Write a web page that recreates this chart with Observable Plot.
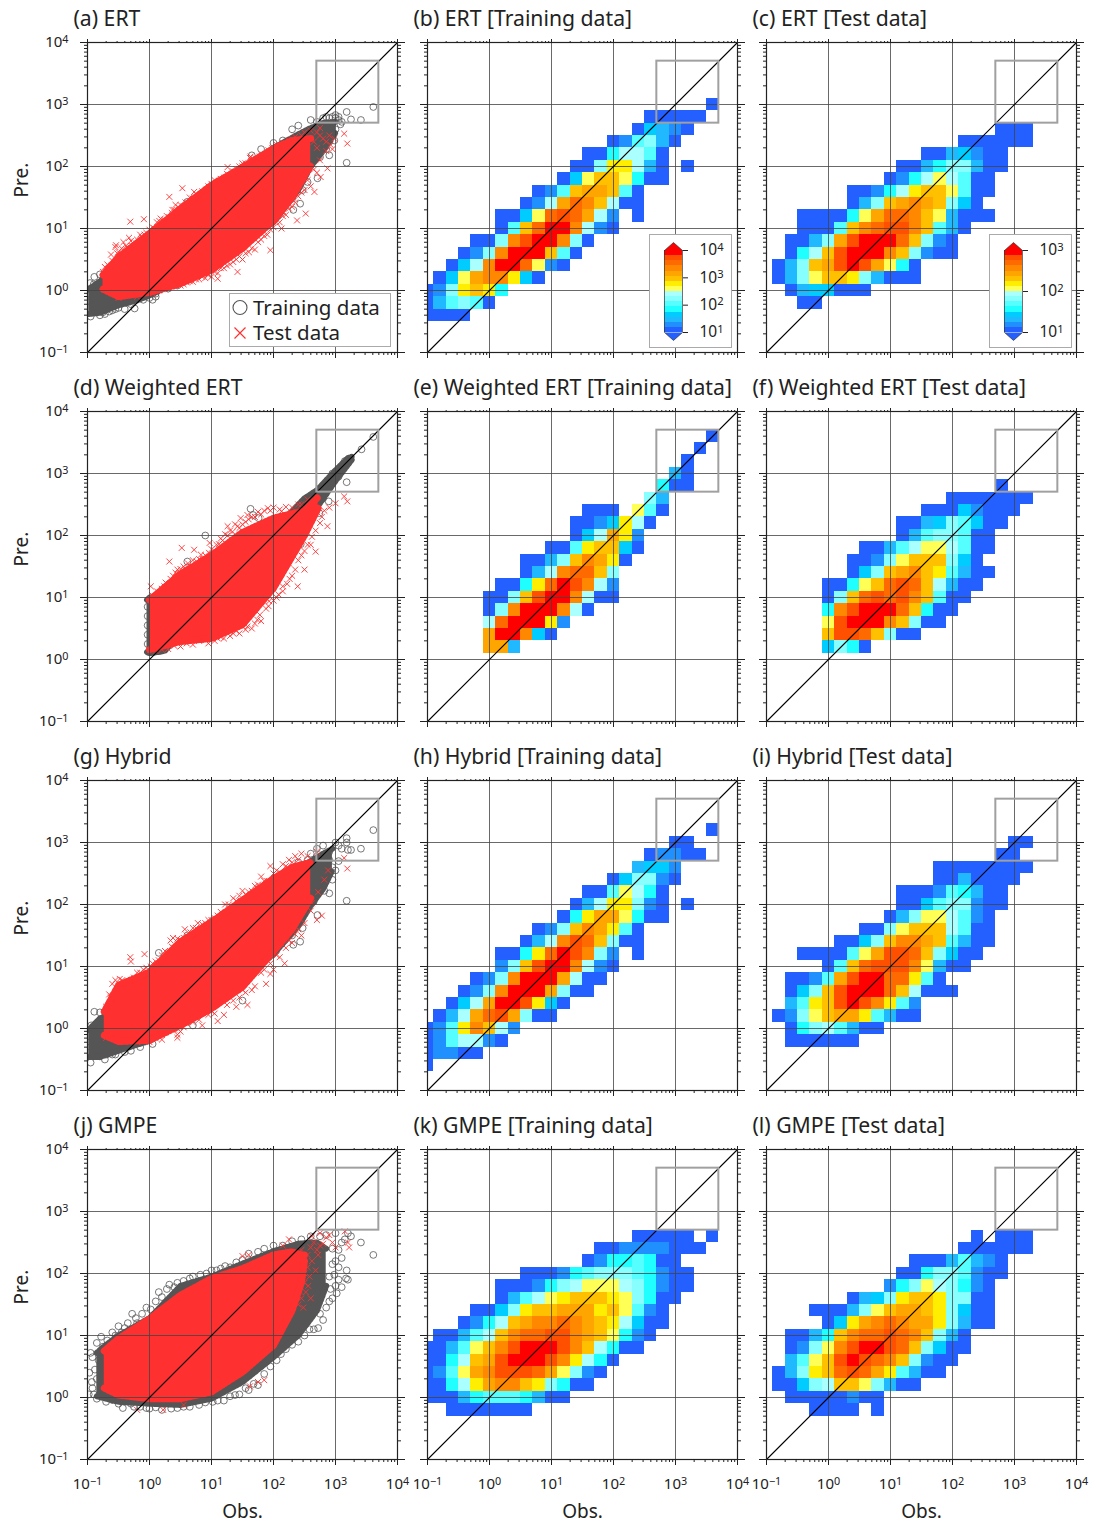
<!DOCTYPE html>
<html><head><meta charset="utf-8">
<script src="https://cdn.jsdelivr.net/npm/d3@7"></script>
<script src="https://cdn.jsdelivr.net/npm/@observablehq/plot@0.6"></script>
<style>
html,body{margin:0;padding:0;background:#fff}
#page{position:relative;width:1103px;height:1522px;overflow:hidden;font-family:"Noto Sans",sans-serif;color:#222}
#page svg{background:transparent;overflow:visible}
.lg{position:absolute;left:229px;top:293px;width:160px;height:52px;background:#fff;border:1.5px solid #aaa;font-size:20.5px;line-height:25px}
.lg svg{position:absolute;left:0;top:0}
.lg span{position:absolute;left:23px}
</style></head><body><div id="page"></div>
<script>
// ---- histogram colour levels (a = lowest count ... p = highest)
const levelKeys="abcdefghijklmnop".split("");
const levelColors=["#2460ff","#2090ff","#20b8ff","#00ccff","#20ffff","#55ffff","#88ffff","#aaffff","#ffff55","#ffee00","#ffc000","#ffa500","#ff8800","#ff6a00","#ff5000","#ff0000"];
// ---- histogram cells: [row from top, first column, levels per column]
const cellsB=[[5,23,"a"],[6,18,"aaaaa"],[7,17,"adcba"],[8,15,"abfgca"],[9,13,"aaehhfa"],[10,12,"aagjjhca.a"],[11,11,"adikkieaa"],[12,9,"abfkllkfa"],[13,8,"abhlnmkhaa"],[14,6,"aadinonlhb.a"],[15,6,"afknppmhba"],[16,4,"aagmoppmga"],[17,3,"abgmpppkfa"],[18,2,"adhmppniba"],[19,1,"adilmmjda"],[20,0,"abgjkje"],[21,0,"acfgfa"],[22,0,"aaaa"]];
const cellsC=[[7,19,"aaa"],[8,16,"aaaaaa"],[9,13,"aacdbaa"],[10,11,"aaceggcaa"],[11,10,"abehihfaa"],[12,7,"aabehjkkifaa"],[13,7,"acgklmlkgda"],[14,3,"aaaaeilnnmkicaaa"],[15,3,"aaafkmnoomkfca"],[16,2,"aacglopppnkgba"],[17,2,"aehkopppmkgbaa"],[18,1,"acgklopoliea"],[19,1,"acgikkjgcaaa"],[20,2,"acddaaa"],[21,3,"aa"]];
const cellsE=[[2,23,"a"],[3,22,"a"],[4,21,"a"],[5,20,"ca"],[6,19,"eaa"],[7,18,"gc"],[8,13,"aaa.ifa"],[9,12,"aabdjha"],[10,12,"adhljb"],[11,10,"aafjkkda"],[12,8,"aacgkmlja"],[13,8,"achmnnkg"],[14,6,"aaejnpomhb"],[15,5,"aagkoppmhaa"],[16,5,"agmpppmha"],[17,5,"hnpppjb"],[18,5,"lppmda"],[19,5,"llc"]];
const cellsF=[[6,19,"a"],[7,15,"aaaaaaa"],[8,13,"aaadbaaa"],[9,11,"aacdgfdaa"],[10,11,"acfggfaa"],[11,8,"aacfhiihfaa"],[12,7,"aabgikkkgda"],[13,7,"adgklmkjfcaa"],[14,5,"aaeiknonkhcaa"],[15,5,"agknonomkfaa"],[16,5,"emopppnkeaa"],[17,5,"iopppmkgaa"],[18,5,"koonkgaa"],[19,5,"dgea"]];
const cellsH=[[4,23,"a"],[5,20,"aa"],[6,18,"abbaa"],[7,17,"cddb"],[8,15,"adggba"],[9,13,"aafihea"],[10,12,"achjjgba.a"],[11,11,"aejllieaa"],[12,9,"abgkmljfa"],[13,8,"achmonkgaa"],[14,6,"aaejnpomgb.a"],[15,6,"bgkoppmhba"],[16,4,"abgmppplhaa"],[17,3,"abgmppplgaa"],[18,2,"adhlppojda"],[19,1,"achlnolgaa"],[20,0,"abfjmkhb"],[21,0,"abfhhba"],[22,0,"abbaa"],[23,0,"a"]];
const cellsI=[[5,20,"aa"],[6,19,"aa"],[7,14,"aaaaaaaa"],[8,14,"aacaaaa"],[9,11,"aaabfecaa"],[10,11,"aadfggbaa"],[11,10,"acgiihfba"],[12,8,"aagikkkhfaa"],[13,6,"aadgkmmlkfcaa"],[14,3,"aaaafiloonkgdaa"],[15,5,"afknooomicaa"],[16,2,"aabfloppnnjfa"],[17,2,"adgkopppnkhaaa"],[18,2,"cfjkopomjfb"],[19,1,"abgiklljfcaa"],[20,2,"aeghfcaa"],[21,2,"aaaaaa"]];
const cellsK=[[7,17,"aaaaa.a"],[8,14,"aabbbbaaa"],[9,13,"abeefeaa"],[10,8,"aaabefgggfebaa"],[11,6,"aaabeghiiihgebaa"],[12,6,"acfhijkkkjigeaa"],[13,4,"aadgjkkllljkifba"],[14,3,"abehklmmnmlkjhdaa"],[15,1,"aacfhkmnnoomlkieba"],[16,0,"aacfikmopppomkheaa"],[17,0,"aaehklopppomjhea"],[18,0,"abfilmooonligba"],[19,0,"aaehjlmmkjgeaa"],[20,0,"aaacefffecaa"],[21,2,"aaaaaaa"]];
const cellsL=[[7,17,"a.aaa"],[8,16,"aaaaaa"],[9,12,"aaacfcba"],[10,11,"aaeggfbaa"],[11,10,"begihgeba"],[12,7,"acdgjkkjggaa"],[13,4,"aaacgikllkjgdaa"],[14,5,"adjlmnmlljgcaa"],[15,2,"aacekmnnonmkgca"],[16,2,"abgimopponkgdaa"],[17,2,"cfikoponmkgbaa"],[18,1,"acgjknonljfcaa"],[19,1,"aadghkkigcaa"],[20,2,"aaaaabaa"],[21,4,"aaaa.a"]];
// ---- scatter clouds, log10 values: hull rows [obs, upper, lower]
const hullTestA=[[-.75,.25,.02],[-.5,.54,-.1],[0,.92,-.03],[.5,1.32,.11],[1,1.7,.33],[1.5,1.99,.68],[2,2.29,1.13],[2.3,2.42,1.5],[2.6,2.45,2.02]];
const hullTrainA=[[-.98,.02,-.38],[-.8,.15,-.36],[-.5,.35,-.24],[-.2,.35,-.16],[0,.6,-.08],[1,1.6,.4],[2,2.3,1.1],[2.4,2.52,1.62],[2.6,2.62,2],[2.8,2.7,2.25],[3,2.72,2.55]];
const testA=[[-.31,1.11],[-.09,1.15],[-.54,.73],[-.33,.85],[.32,1.51],[.53,1.65],[.72,1.59],[.83,1.52],[.37,1.3],[.18,1.16],[1.26,1.99],[1.5,2.05],[1.63,2.16],[3.19,2.37],[3.14,2.53],[2.76,1.83],[2.87,1.97],[2.66,1.59],[2.52,1.24],[2.38,1.13],[2.13,1],[1.95,.65],[1.42,.3],[1.1,.19],[.94,.25],[.83,.27],[-.75,.3],[-.68,.42],[-.62,.58],[-.55,.7],[-.5,.62],[-.42,.78],[-.35,.68],[-.28,.72],[-.2,.82],[-.12,.86],[-.05,.93],[.05,1.02],[.12,1.1],[.2,1.04],[.28,1.2],[.36,1.25],[.42,1.38],[.5,1.38],[.58,1.42],[.65,1.5],[.75,1.56],[.85,1.6],[.95,1.68],[1.05,1.78],[1.15,1.8],[1.25,1.88],[1.35,1.92],[1.45,2],[1.55,2.05],[1.62,2.14],[1.72,2.12],[1.82,2.18],[1.92,2.26],[2.05,2.35],[2.15,2.38],[2.25,2.42],[2.35,2.48],[2.5,2.55],[-.3,-.08],[-.15,-.06],[.05,-.05],[.2,.02],[.3,.04],[.4,.08],[.5,.08],[.6,.13],[.7,.14],[.8,.18],[.9,.2],[1,.22],[1.1,.28],[1.2,.36],[1.3,.42],[1.4,.5],[1.5,.5],[1.6,.62],[1.7,.66],[1.8,.82],[1.9,.9],[1.95,.98],[2.1,1.1],[2.2,1.22],[2.3,1.35],[2.4,1.52],[2.5,1.62],[2.6,1.68],[2.7,1.9],[2.85,2.4],[2.9,2.5],[2.7,2.55],[2.95,2.28],
[-.72,.38],[-.6,.48],[-.52,.6],[-.45,.68],[-.38,.72],[-.3,.8],[-.22,.76],[-.15,.9],[-.08,.9],[0,.98],[.08,1],[.16,1.12],[.24,1.14],[.32,1.18],[.4,1.3],[.47,1.34],[.55,1.36],[.62,1.42],[.7,1.48],[.8,1.52],[.9,1.6],[1,1.72],[1.1,1.74],[1.2,1.82],[1.3,1.86],[1.4,1.96],[1.5,2],[1.6,2.02],[1.68,2.08],[1.78,2.16],[1.88,2.2],[1.98,2.3],[2.1,2.34],[2.2,2.38],[2.3,2.44],[2.45,2.5],[2.6,2.58],[2.75,2.62],
[-.5,-.12],[-.2,-.1],[0,-.02],[.15,0],[.25,.02],[.35,.06],[.45,.1],[.55,.1],[.65,.15],[.75,.18],[.85,.22],[.95,.26],[1.05,.3],[1.15,.36],[1.25,.4],[1.35,.46],[1.45,.55],[1.55,.6],[1.65,.68],[1.75,.78],[1.85,.88],[2,1.02],[2.05,1.1],[2.15,1.2],[2.25,1.32],[2.35,1.42],[2.45,1.58],[2.55,1.78],[2.65,1.95],[2.75,2.1],[2.85,2.25],[2.92,2.35],[2.98,2.45],[2.7,2.3],[2.8,2.45],[2.65,2.4],[2.75,2.5]];
const trainA=[[3.61,2.96],[3.41,2.75],[3.18,2.88],[3.18,2.06],[3.25,2.76],[2.9,2.18],[2.71,1.81],[2.47,1.62],[2.43,1.4],[2.32,1.3],[-.89,.22],[-.8,.26],[-.94,.03],[-.95,-.42],[-.8,-.4],[-.24,-.29],[.61,1.43],[-.95,-.18],[-.65,-.34],[-.98,-.05],[-.87,-.26],[-.72,-.38],[-.55,-.3],[-.4,-.3],[.05,-.15],[.1,-.1],[.45,.08],[3.1,2.72],[3.05,2.8],[3,2.83],[2.85,2.8],[2.6,2.75],[2.4,2.66],[2.3,2.6],[2.15,2.42],[2,2.38],[1.8,2.28],[1.65,2.18],[2.6,2.02],[2.75,2.15],[2.85,2.28],[2.98,2.42],[2.55,1.75],[2.3,1.48],[2.7,2.72],[2.8,2.78],[2.9,2.78],[2.95,2.8],[3,2.78],[3.05,2.75],[3.08,2.68],[3,2.6],[2.95,2.5],[2.9,2.4],[2.8,2.3],[-.9,-.1],[-.85,-.35],[-.75,-.35],[-.6,-.32],[-.5,-.28],[-.3,-.22],[-.1,-.15],[0,-.12],[.1,-.05],[.3,.03],[-.96,.12],[-.9,.1],[-.85,.05],[-.75,.18],[-.7,.25]];
const hullTestD=[[0,.96,.16],[.5,1.38,.29],[1,1.68,.34],[1.5,2.05,.56],[2,2.28,1.15],[2.5,2.4,2],[2.72,2.62,2.44]];
const hullTrainD=[[-.04,.96,.12],[0,1,.1],[.25,1,.14],[.3,.3,.2],[2.5,2.6,2.32],[2.7,2.73,2.45],[3,3.05,2.88],[3.2,3.25,3.14],[3.26,3.27,3.22]];
const testD=[[.32,1.58],[.52,1.8],[.72,1.77],[.83,1.69],[.97,1.88],[.02,1.18],[.24,1.18],[1.26,2.15],[1.47,2.28],[1.58,2.33],[1.91,2.44],[2.13,2.39],[2.29,2.36],[3.19,2.55],[3.14,2.63],[3,2.52],[2.87,2.15],[2.68,1.74],[2.6,1.85],[2.5,1.45],[2.39,1.18],[2.25,1.55],[2.15,1.1],[1.93,.94],[1.74,.64],[1.58,.53],[1.35,.42],[1.1,.34],[.83,.32],[.5,.21],[.1,1.02],[.18,1.08],[.3,1.2],[.38,1.35],[.45,1.45],[.55,1.5],[.62,1.55],[.7,1.6],[.8,1.62],[.9,1.68],[1,1.78],[1.08,1.85],[1.15,1.95],[1.22,2.02],[1.3,2.08],[1.38,2.18],[1.45,2.12],[1.55,2.22],[1.65,2.3],[1.75,2.38],[1.85,2.4],[2,2.45],[2.2,2.46],[2.4,2.5],[2.55,2.58],[.3,.17],[.7,.24],[.95,.26],[1.2,.34],[1.45,.42],[1.65,.5],[1.8,.62],[1.88,.82],[2,.95],[2.08,1.05],[2.22,1.22],[2.3,1.35],[2.4,1.6],[2.5,1.75],[2.62,1.98],[2.75,2.2],[2.82,2.4],[2.9,2.45],
[.04,1.04],[.12,1.1],[.2,1.14],[.26,1.24],[.34,1.3],[.42,1.4],[.5,1.46],[.58,1.46],[.66,1.5],[.76,1.58],[.86,1.62],[.96,1.72],[1.04,1.76],[1.12,1.86],[1.18,1.92],[1.26,2],[1.34,2.06],[1.42,2.15],[1.5,2.18],[1.6,2.26],[1.7,2.3],[1.8,2.34],[1.95,2.4],[2.1,2.42],[2.3,2.45],[2.45,2.5],[.1,.14],[.2,.16],[.4,.22],[.6,.26],[.8,.3],[1.05,.3],[1.15,.36],[1.3,.38],[1.4,.46],[1.55,.48],[1.7,.58],[1.78,.72],[1.92,.86],[2.05,1],[2.15,1.18],[2.26,1.3],[2.35,1.45],[2.45,1.68],[2.55,1.85],[2.68,2.08],[2.78,2.3]];
const trainD=[[3.61,3.59],[3.42,3.39],[3.24,3.23],[3.18,2.86],[2.89,2.55],[2.74,2.36],[2.44,1.86],[1.63,2.43],[1.76,2.28],[1.67,2.33],[.61,1.58],[-.03,.7],[-.03,.4],[3.1,3.12],[3.15,3.2],[3,3.02],[2.95,2.9],[2.85,2.78],[2.8,2.6],[-.03,.85],[-.03,.55],[-.03,.25],[.08,.13],[.18,.14],[.9,2],[2.7,2.45],[2.95,3],[3.05,2.95]];
const hullTestG=[[-.73,.27,-.11],[-.5,.7,-.21],[0,.91,-.19],[.5,1.4,.05],[1,1.72,.32],[1.5,2.07,.67],[2,2.42,1.24],[2.3,2.6,1.6],[2.6,2.68,2.1]];
const hullTrainG=[[-.98,-.02,-.46],[-.8,.16,-.46],[-.5,.3,-.36],[-.2,.26,-.26],[0,.6,-.2],[1,1.6,.35],[2,2.36,1.2],[2.4,2.58,1.65],[2.6,2.7,1.98],[2.8,2.82,2.25],[2.95,2.9,2.55]];
const testG=[[-.31,1.15],[-.3,1.08],[-.08,1.2],[.34,1.42],[.38,1.46],[.57,1.6],[.78,1.7],[.4,1.3],[-.6,.72],[-.55,.78],[-.48,.8],[-.42,.72],[-.65,.55],[-.3,.78],[-.2,.9],[-.1,.95],[.05,1.05],[.15,1.1],[.25,1.25],[.45,1.45],[.6,1.5],[.7,1.62],[.85,1.68],[.95,1.75],[1.1,1.82],[1.22,2],[1.35,2.1],[1.5,2.22],[1.6,2.2],[1.7,2.3],[1.8,2.45],[1.9,2.38],[1.95,2.62],[2.05,2.55],[2.15,2.65],[2.25,2.72],[2.35,2.78],[2.45,2.82],[3.19,2.58],[3.14,2.75],[2.78,1.82],[2.7,1.75],[2.6,1.9],[2.45,1.5],[2.3,1.38],[2.18,1.05],[2,.95],[1.95,.88],[1.88,.72],[1.58,.38],[1.4,.35],[1.2,.22],[1.1,.12],[.85,.05],[.5,-.05],[.4,-.02],[.3,-.03],[.45,-.1],[.2,-.18],[.45,-.15],[.55,.02],[.7,.1],[.95,.22],[1.5,.62],[1.65,.62],[1.8,.9],[2.05,1.18],[2.2,1.3],[2.35,1.52],[-.7,-.15],[-.6,-.02],[.2,-.1],
[-.7,.35],[-.62,.5],[-.52,.62],[-.44,.78],[-.36,.74],[-.25,.82],[-.15,.9],[-.05,.98],[.02,1],[.1,1.08],[.2,1.18],[.3,1.22],[.36,1.32],[.5,1.42],[.56,1.46],[.66,1.55],[.75,1.62],[.9,1.7],[1,1.75],[1.05,1.78],[1.15,1.88],[1.28,2],[1.4,2.06],[1.45,2.14],[1.55,2.16],[1.65,2.22],[1.75,2.32],[1.85,2.38],[2,2.5],[2.1,2.52],[2.2,2.62],[2.3,2.68],[2.4,2.72],[2.55,2.78],[2.7,2.85],[-.4,-.22],[-.2,-.22],[0,-.22],[.1,-.16],[.25,-.06],[.35,-.02],[.6,.08],[.8,.14],[1,.28],[1.05,.24],[1.25,.38],[1.35,.45],[1.45,.5],[1.55,.58],[1.7,.68],[1.85,.95],[1.95,1.05],[2.1,1.15],[2.25,1.42],[2.4,1.6],[2.5,1.7],[2.62,2.02],[2.72,2.2],[2.82,2.4],[2.88,2.55]];
const trainG=[[3.61,3.2],[3.41,2.9],[3.18,3.07],[3.18,3],[3.18,2.06],[3.25,2.88],[3.2,2.88],[2.9,2.18],[2.71,1.83],[2.47,1.62],[2.43,1.4],[2.32,1.35],[-.89,.27],[-.8,.26],[-.94,.05],[-.95,-.55],[-.8,-.45],[-.7,-.42],[-.98,-.12],[-.87,-.2],[-.55,-.42],[-.4,-.38],[.05,-.25],[.15,1.22],[.61,1.5],[3.1,2.9],[3,3],[2.9,2.85],[2.85,2.75],[3.05,2.7],[3,2.55],[2.95,2.4],[2.7,2.9],[2.55,2.72],[2.4,2.68],[2.3,1.5],[2.5,1.9],[2.65,2.05],[2.82,2.22],[.7,.05],[1.5,.45],[-.95,-.3],[-.72,-.5],[2.6,2.82],[2.8,2.95],[2.9,2.72],[3.05,2.95],[2.95,2.6],[2.85,2.4],[2.75,2.3],[2.55,2],[2.45,1.75],[-.9,-.42],[-.85,-.05],[-.75,.05],[-.6,-.42],[-.3,-.36],[-.15,-.3]];
const hullTrainJ=[[-.85,.72,.02],[-.7,.85,-.02],[-.5,1,-.07],[0,1.28,-.1],[.5,1.8,-.12],[1,1.95,-.02],[1.5,2.16,.25],[2,2.36,.65],[2.4,2.48,1],[2.7,2.5,1.4],[2.85,2.4,1.8]];
const hullTestJ=[[-.73,.75,.15],[-.5,.95,.04],[0,1.27,-.02],[.5,1.65,-.02],[1,1.92,.09],[1.5,2.08,.41],[2,2.3,.84],[2.3,2.35,1.4],[2.45,2.3,1.85],[2.5,2.3,2.2]];
const testJ=[[2.15,2.45],[2.25,2.55],[2.62,2.6],[2.75,2.65],[2.9,2.62],[3.15,2.68],[3.2,2.5],[3.22,2.42],[1.5,2.28],[1.6,2.3],[.55,-.12],[.22,-.2],[-.2,-.2],[1.62,.18],[1.75,.25],[1.85,.28],[2.4,1.9],[2.45,1.6],[2.5,2],[2.52,1.7],[2.4,1.5],[2.35,1.75],[2.6,1.6],[2.48,2.2],[2.55,2.3],[2.4,2.3],[2.45,2.38],[2.6,2.42],[2.65,2.5],[2.7,2.38],[2.8,2.48],[2.85,2.58],[2.95,2.5],[3,2.42],[2.42,1.72],[2.5,1.85],[2.38,1.62],[2.55,2.1],[2.45,2.05],[2.35,2.15],[2.58,1.95],[2.62,2.2],[2.68,2.05],[2.72,2.3],[2.56,1.8],[2.48,1.45],[2.75,2.45]];
const trainJ=[[3.61,2.3],[3.41,2.5],[3.25,2.6],[3.2,2.65],[3.18,2.05],[3.2,1.9],[3.17,1.92],[3.1,1.78],[3.05,1.9],[3,1.8],[2.9,1.55],[2.8,1.25],[2.72,1.12],[2.65,1.1],[2.4,.9],[2.2,.78],[2.05,.6],[1.85,.38],[1.75,.2],[1.6,.12],[1.45,.05],[1.3,.02],[1.2,-.05],[1.02,-.07],[.8,-.12],[.55,-.15],[.35,-.18],[.2,-.2],[0,-.18],[-.15,-.15],[-.3,-.1],[-.43,-.17],[-.7,-.07],[-.9,.05],[-.98,.05],[-.93,.25],[-.97,.4],[-.95,.72],[-.92,.65],[-.85,.88],[-.78,.98],[-.6,1.05],[-.5,1.15],[-.4,1.12],[-.28,1.35],[-.2,1.2],[-.05,1.45],[.15,1.7],[.32,1.82],[.4,1.78],[.65,1.92],[.7,1.95],[1,2.05],[1.15,2.08],[1.3,2.1],[1.6,2.32],[1.75,2.35],[2,2.45],[2.3,2.52],[2.6,2.6],[3,2.65],[3.1,2.5],[2.95,2.4],[3,2.2],
[-.88,.45],[-.92,.15],[-.85,.3],[-.82,.6],[-.75,.82],[-.68,.92],[-.55,1],[-.45,1.05],[-.35,1.2],[-.22,1.28],[-.12,1.35],[.02,1.42],[.1,1.55],[.2,1.62],[.28,1.75],[.45,1.85],[.55,1.88],[.82,1.98],[.92,2],[1.08,2.05],[1.22,2.12],[1.4,2.18],[1.5,2.22],[1.85,2.4],[2.15,2.45],[2.45,2.55],[2.75,2.6],[2.85,2.62],[-.85,-.02],[-.78,.02],[-.6,-.04],[-.5,-.1],[-.25,-.15],[-.05,-.17],[.1,-.16],[.45,-.17],[.65,-.15],[.9,-.08],[1.1,-.05],[1.38,.04],[1.55,.15],[1.68,.22],[1.95,.5],[2.12,.7],[2.3,.85],[2.5,1],[2.58,1.1],[2.75,1.35],[2.85,1.45],[2.95,1.6],[3.02,1.68],[2.92,1.75],[2.98,1.98],[3.05,2.1],[3.1,2.25],[2.9,1.95],[2.95,2.15],[3.05,2.38],[3.15,2.55]];
// ---- axes and the reference box
const decades=[.1,1,10,100,1000,10000];
const decadeNames=["10⁻¹","10⁰","10¹","10²","10³","10⁴"];
const minorTicks=decades.slice(0,5).flatMap(d=>[2,3,4,5,6,7,8,9].map(m=>m*d));
const regionBox=[{x1:500,x2:5000,y1:500,y2:5000}];
const panelNames=["(a) ERT","(b) ERT [Training data]","(c) ERT [Test data]","(d) Weighted ERT","(e) Weighted ERT [Training data]","(f) Weighted ERT [Test data]","(g) Hybrid","(h) Hybrid [Training data]","(i) Hybrid [Test data]","(j) GMPE","(k) GMPE [Training data]","(l) GMPE [Test data]"];
const cellSets={1:cellsB,2:cellsC,4:cellsE,5:cellsF,7:cellsH,8:cellsI,10:cellsK,11:cellsL};
const scatterSets={0:[hullTrainA,hullTestA,trainA,testA],3:[hullTrainD,hullTestD,trainD,testD],6:[hullTrainG,hullTestG,trainG,testG],9:[hullTrainJ,hullTestJ,trainJ,testJ]};

const page=document.getElementById("page");
const FONT='"Noto Sans",sans-serif';
const p10=v=>Math.pow(10,v);
const lx=v=>decadeNames[decades.indexOf(v)];
const supMap={"⁻":"−","¹":"1","⁰":"0","²":"2","³":"3","⁴":"4"};
function raiseExponents(svg){
  svg.querySelectorAll("text").forEach(t=>{
    const m=/^10([⁻¹⁰²³⁴]+)$/.exec(t.textContent);
    if(!m)return;
    t.textContent="10";
    const s=document.createElementNS("http://www.w3.org/2000/svg","tspan");
    s.setAttribute("dy","-0.42em");s.setAttribute("font-size","72%");
    s.textContent=[...m[1]].map(c=>supMap[c]).join("");
    t.appendChild(s);
  });
  return svg;
}

function cellsTable(rows){
  const out=[];
  for(const [t,k0,s] of rows){
    [...s].forEach((lvl,i)=>{
      if(lvl===".")return;
      const cx=-1+.2*(k0+i), cy=4-.2*t;
      out.push({x1:p10(cx-.1),x2:p10(cx+.1),y1:p10(cy-.1),y2:p10(cy+.1),level:lvl});
    });
  }
  return out;
}

panelNames.forEach((name,i)=>{
  const col=i%3,row=Math.floor(i/3);
  const left=[0,340,679][col], top=[0,369,738,1107][row];
  const marks=[];
  if(cellSets[i]) marks.push(Plot.rect(cellsTable(cellSets[i]),{x1:"x1",x2:"x2",y1:"y1",y2:"y2",fill:"level",clip:true,shapeRendering:"crispEdges"}));
  if(scatterSets[i]){
    const [hTr,hTe,ptTr,ptTe]=scatterSets[i];
    const comb=(h,k,c,w)=>Plot.line(h,{x:d=>p10(d[0]),y:d=>p10(d[k]),stroke:c,strokeWidth:w,strokeDasharray:"1.6 2.2",clip:true});
    marks.push(
      Plot.dot(ptTr,{x:d=>p10(d[0]),y:d=>p10(d[1]),r:3.4,stroke:"#555",strokeWidth:.8,fill:"none",clip:true}),
      Plot.areaY(hTr,{x:d=>p10(d[0]),y1:d=>p10(d[2]),y2:d=>p10(d[1]),fill:"#555"}),
      comb(hTr,1,"#555",6),comb(hTr,2,"#555",6),
      Plot.areaY(hTe,{x:d=>p10(d[0]),y1:d=>p10(d[2]),y2:d=>p10(d[1]),fill:"#ff3030"}),
      comb(hTe,1,"#ff3030",7),comb(hTe,2,"#ff3030",7),
      Plot.dot(ptTe,{x:d=>p10(d[0]),y:d=>p10(d[1]),symbol:"times",r:2.8,stroke:"#ff3030",strokeWidth:.9,clip:true})
    );
  }
  marks.push(
    Plot.ruleX(decades.slice(1,-1),{stroke:"#444",strokeOpacity:.8,strokeWidth:1}),
    Plot.ruleY(decades.slice(1,-1),{stroke:"#444",strokeOpacity:.8,strokeWidth:1}),
    Plot.line([[.1,.1],[1e4,1e4]],{x:d=>d[0],y:d=>d[1],stroke:"#000",strokeWidth:1.1}),
    Plot.rect(regionBox,{x1:"x1",x2:"x2",y1:"y1",y2:"y2",stroke:"#a0a0a0",strokeWidth:2,fill:"none"}),
    Plot.frame({stroke:"#222",strokeWidth:1.2}),
    Plot.axisX(minorTicks,{anchor:"bottom",tickSize:3,tickFormat:()=>"",label:null,stroke:"#222"}),
    Plot.axisX(decades,{anchor:"bottom",tickSize:6,tickPadding:13,fontSize:15,tickFormat:row===3?lx:()=>"",label:null,stroke:"#222"}),
    Plot.axisX(minorTicks,{anchor:"top",tickSize:2,tickFormat:()=>"",label:null,stroke:"#222"}),
    Plot.axisX(decades,{anchor:"top",tickSize:4,tickFormat:()=>"",label:null,stroke:"#222"}),
    Plot.axisY(minorTicks,{anchor:"left",tickSize:3,tickFormat:()=>"",label:null,stroke:"#222"}),
    Plot.axisY(decades,{anchor:"left",tickSize:7,tickPadding:12,fontSize:15,tickFormat:col===0?lx:()=>"",label:null,stroke:"#222"}),
    Plot.axisY(minorTicks,{anchor:"right",tickSize:3,tickFormat:()=>"",label:null,stroke:"#222"}),
    Plot.axisY(decades,{anchor:"right",tickSize:7,tickFormat:()=>"",label:null,stroke:"#222"}),
    Plot.text([name],{frameAnchor:"top-left",dx:-14,dy:-23,text:d=>d,textAnchor:"start",lineAnchor:"middle",fontSize:21.2,fill:"#222"})
  );
  if(col===0) marks.push(Plot.text(["Pre."],{frameAnchor:"left",dx:-66,text:d=>d,rotate:-90,fontSize:19,fill:"#222"}));
  if(row===3) marks.push(Plot.text(["Obs."],{frameAnchor:"bottom",dy:58,text:d=>d,fontSize:19,fill:"#222"}));
  const svg=Plot.plot({
    width:417,height:422,marginLeft:87,marginRight:20,marginTop:42,marginBottom:70,
    style:{position:"absolute",left:left+"px",top:top+"px",fontFamily:FONT,background:"transparent"},
    x:{type:"log",domain:[.1,1e4],axis:null},
    y:{type:"log",domain:[.1,1e4],axis:null},
    color:{type:"ordinal",domain:levelKeys,range:levelColors},
    marks
  });
  page.appendChild(raiseExponents(svg));
});

// ---- colour bars (tick values of the bar)
const barB=[10,100,1000,10000], barC=[10,100,1000];
function colorbar(ticks,left,top){
  const lo=Math.log10(ticks[0]),hi=Math.log10(ticks[ticks.length-1]),step=(hi-lo)/levelKeys.length;
  const boxes=levelKeys.map((k,i)=>({y1:p10(lo+i*step),y2:p10(lo+(i+1)*step),level:k}));
  const over=.097*(hi-lo);
  const svg=Plot.plot({
    width:81,height:112,marginLeft:14,marginRight:49,marginTop:15,marginBottom:15,
    style:{position:"absolute",left:left+"px",top:top+"px",background:"#fff",fontFamily:FONT,border:"1.5px solid #aaa",boxSizing:"content-box"},
    x:{domain:[0,1],axis:null},
    y:{type:"log",domain:[ticks[0],ticks[ticks.length-1]],axis:null},
    color:{type:"ordinal",domain:levelKeys,range:levelColors},
    marks:[
      Plot.rect(boxes,{x1:0,x2:1,y1:"y1",y2:"y2",fill:"level",shapeRendering:"crispEdges"}),
      Plot.line([[0,hi],[.5,hi+over],[1,hi]],{x:d=>d[0],y:d=>p10(d[1]),fill:"#ff0000",stroke:"#333",strokeWidth:.7}),
      Plot.line([[0,lo],[.5,lo-over],[1,lo]],{x:d=>d[0],y:d=>p10(d[1]),fill:"#2460ff",stroke:"#333",strokeWidth:.7}),
      Plot.ruleX([0,1],{stroke:"#333",strokeWidth:.7}),
      Plot.axisY(ticks,{anchor:"right",tickSize:5,tickPadding:12,fontSize:15.5,label:null,tickFormat:d=>decadeNames[decades.indexOf(d)],stroke:"#222"})
    ]
  });
  page.appendChild(raiseExponents(svg));
}
colorbar(barB,649,234);
colorbar(barC,989,234);

// ---- scatter legend
const lg=document.createElement("div");
lg.className="lg";
lg.innerHTML='<svg width="30" height="52"><circle cx="10" cy="13.5" r="7" fill="none" stroke="#555" stroke-width="1.1"/><path d="M4.5 33.5L15.5 44.5M15.5 33.5L4.5 44.5" stroke="#ff3030" stroke-width="1.2"/></svg><span style="top:1px">Training data</span><span style="top:26px">Test data</span>';
page.appendChild(lg);
</script></body></html>
